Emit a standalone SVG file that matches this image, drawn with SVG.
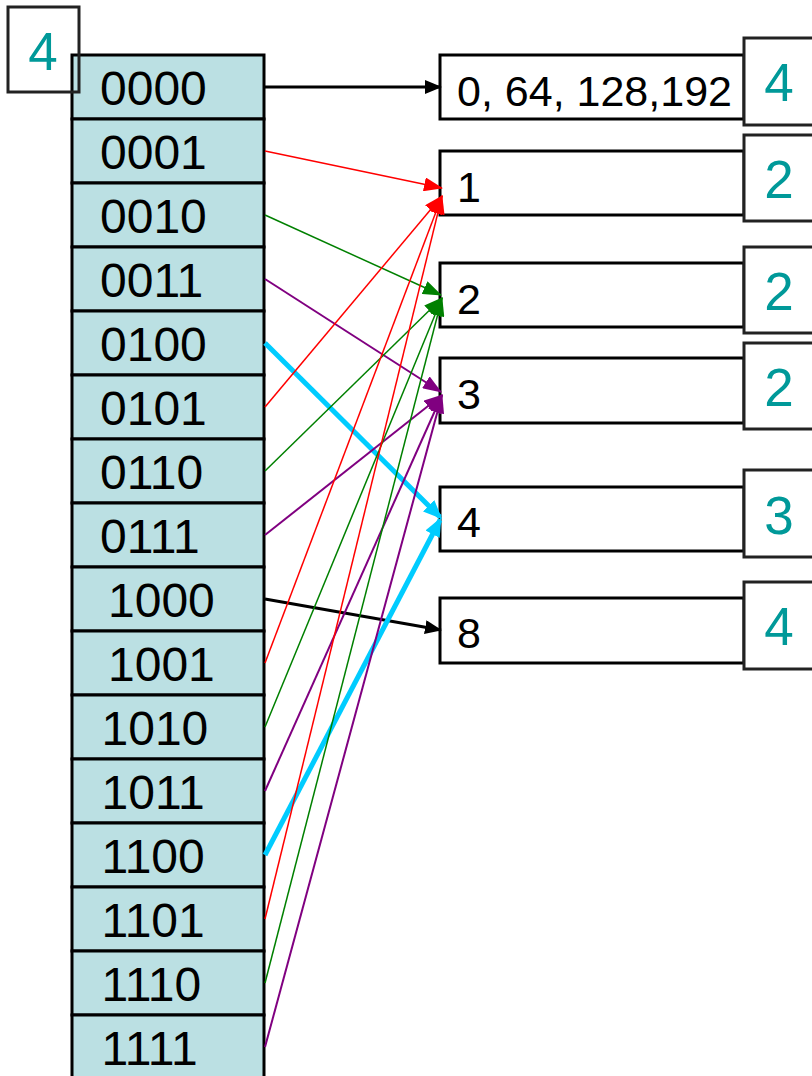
<svg xmlns="http://www.w3.org/2000/svg" width="812" height="1076" viewBox="0 0 812 1076">
<style>
.cell{fill:#BBE0E3;stroke:#000;stroke-width:3}
.dt{font-family:"Liberation Sans",Arial,sans-serif;font-size:48px;fill:#000}
.bk{fill:#fff;stroke:#000;stroke-width:3}
.bt{font-family:"Liberation Sans",Arial,sans-serif;font-size:43px;fill:#000}
.cb{fill:#fff;stroke:#222;stroke-width:3}
.ct{font-family:"Liberation Sans",Arial,sans-serif;font-size:53px;fill:#009999;text-anchor:middle}
.c line{fill:none}
.k{stroke:#000;stroke-width:3;marker-end:url(#ak)}
.r{stroke:#FF0000;stroke-width:1.5;marker-end:url(#ar)}
.g{stroke:#008000;stroke-width:1.5;marker-end:url(#ag)}
.p{stroke:#800080;stroke-width:2;marker-end:url(#ap)}
.y{stroke:#00CCFF;stroke-width:5;marker-end:url(#ay)}
</style>
<defs>
<marker id="ak" markerUnits="userSpaceOnUse" markerWidth="18" markerHeight="14" refX="16" refY="7" orient="auto"><path d="M0,0 L17,7 L0,14 z" fill="#000"/></marker>
<marker id="ar" markerUnits="userSpaceOnUse" markerWidth="20" markerHeight="14" refX="18" refY="7" orient="auto"><path d="M0,0 L19,7 L0,14 z" fill="#FF0000"/></marker>
<marker id="ag" markerUnits="userSpaceOnUse" markerWidth="20" markerHeight="14" refX="18" refY="7" orient="auto"><path d="M0,0 L19,7 L0,14 z" fill="#008000"/></marker>
<marker id="ap" markerUnits="userSpaceOnUse" markerWidth="20" markerHeight="14" refX="18" refY="7" orient="auto"><path d="M0,0 L19,7 L0,14 z" fill="#800080"/></marker>
<marker id="ay" markerUnits="userSpaceOnUse" markerWidth="20" markerHeight="16" refX="16" refY="8" orient="auto"><path d="M0,0 L19,8 L0,16 z" fill="#00CCFF"/></marker>
</defs>

<g id="directory">
<rect class="cell" x="72" y="55" width="192" height="64"/><text class="dt" x="100" y="105">0000</text>
<rect class="cell" x="72" y="119" width="192" height="64"/><text class="dt" x="100" y="169">0001</text>
<rect class="cell" x="72" y="183" width="192" height="64"/><text class="dt" x="100" y="233">0010</text>
<rect class="cell" x="72" y="247" width="192" height="64"/><text class="dt" x="100" y="297">0011</text>
<rect class="cell" x="72" y="311" width="192" height="64"/><text class="dt" x="100" y="361">0100</text>
<rect class="cell" x="72" y="375" width="192" height="64"/><text class="dt" x="100" y="425">0101</text>
<rect class="cell" x="72" y="439" width="192" height="64"/><text class="dt" x="100" y="489">0110</text>
<rect class="cell" x="72" y="503" width="192" height="64"/><text class="dt" x="100" y="553">0111</text>
<rect class="cell" x="72" y="567" width="192" height="64"/><text class="dt" x="108" y="617">1000</text>
<rect class="cell" x="72" y="631" width="192" height="64"/><text class="dt" x="108" y="681">1001</text>
<rect class="cell" x="72" y="695" width="192" height="64"/><text class="dt" x="101.5" y="745">1010</text>
<rect class="cell" x="72" y="759" width="192" height="64"/><text class="dt" x="101.5" y="809">1011</text>
<rect class="cell" x="72" y="823" width="192" height="64"/><text class="dt" x="101.5" y="873">1100</text>
<rect class="cell" x="72" y="887" width="192" height="64"/><text class="dt" x="101.5" y="937">1101</text>
<rect class="cell" x="72" y="951" width="192" height="64"/><text class="dt" x="101.5" y="1001">1110</text>
<rect class="cell" x="72" y="1015" width="192" height="64"/><text class="dt" x="101.5" y="1065">1111</text>
</g>

<g id="global-depth">
<rect x="8" y="7" width="71" height="85" fill="none" stroke="#222" stroke-width="3"/>
<text class="ct" x="43" y="70">4</text>
</g>

<g id="bucket-0"><rect class="bk" x="440" y="55" width="304" height="64"/><text class="bt" x="457" y="106">0, 64, 128,192</text>
<rect class="cb" x="744" y="38" width="72" height="87"/><text class="ct" x="779" y="101">4</text></g>
<g id="bucket-1"><rect class="bk" x="440" y="151" width="304" height="64"/><text class="bt" x="457" y="202">1</text>
<rect class="cb" x="744" y="135" width="72" height="86"/><text class="ct" x="779" y="198">2</text></g>
<g id="bucket-2"><rect class="bk" x="440" y="263" width="304" height="64"/><text class="bt" x="457" y="314">2</text>
<rect class="cb" x="744" y="247" width="72" height="86"/><text class="ct" x="779" y="310">2</text></g>
<g id="bucket-3"><rect class="bk" x="440" y="358" width="304" height="65"/><text class="bt" x="457" y="409">3</text>
<rect class="cb" x="744" y="343" width="72" height="86"/><text class="ct" x="779" y="406">2</text></g>
<g id="bucket-4"><rect class="bk" x="440" y="487" width="304" height="64"/><text class="bt" x="457" y="537">4</text>
<rect class="cb" x="744" y="470" width="72" height="87"/><text class="ct" x="779" y="534">3</text></g>
<g id="bucket-8"><rect class="bk" x="440" y="598" width="304" height="65"/><text class="bt" x="457" y="648">8</text>
<rect class="cb" x="744" y="582" width="72" height="87"/><text class="ct" x="779" y="645">4</text></g>

<g id="connectors" class="c">
<line class="k" x1="265" y1="87" x2="441" y2="87"/>
<line class="r" x1="265" y1="151" x2="442" y2="188"/>
<line class="g" x1="265" y1="215" x2="441" y2="295"/>
<line class="p" x1="265" y1="279" x2="441" y2="392"/>
<line class="y" x1="265" y1="343" x2="440" y2="517"/>
<line class="r" x1="265" y1="407" x2="442" y2="196"/>
<line class="g" x1="265" y1="471" x2="442" y2="298"/>
<line class="p" x1="265" y1="535" x2="442" y2="395"/>
<line class="k" x1="265" y1="599" x2="441" y2="630"/>
<line class="r" x1="265" y1="663" x2="442" y2="196"/>
<line class="g" x1="265" y1="727" x2="442" y2="298"/>
<line class="p" x1="265" y1="791" x2="442" y2="395"/>
<line class="y" x1="265" y1="855" x2="440" y2="520"/>
<line class="r" x1="265" y1="919" x2="442" y2="196"/>
<line class="g" x1="265" y1="983" x2="442" y2="298"/>
<line class="p" x1="265" y1="1047" x2="442" y2="395"/>
</g>
</svg>
